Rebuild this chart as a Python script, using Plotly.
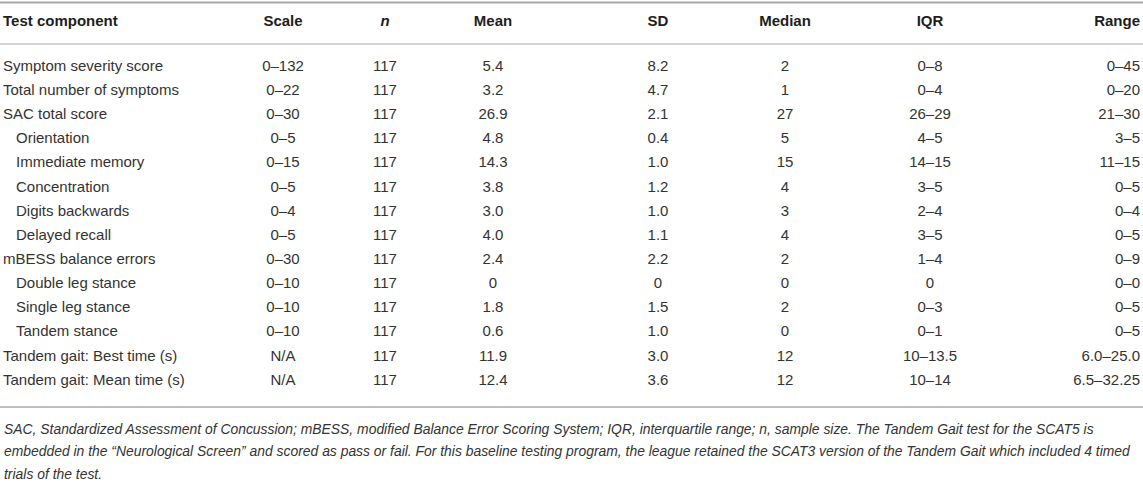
import plotly.graph_objects as go

# ---------------- data ----------------
headers = ["Test component", "Scale", "<i>n</i>", "Mean", "SD", "Median", "IQR", "Range"]
components = ["Symptom severity score", "Total number of symptoms", "SAC total score",
              "Orientation", "Immediate memory", "Concentration", "Digits backwards",
              "Delayed recall", "mBESS balance errors", "Double leg stance",
              "Single leg stance", "Tandem stance", "Tandem gait: Best time (s)",
              "Tandem gait: Mean time (s)"]
indent_level = [0, 0, 0, 1, 1, 1, 1, 1, 0, 1, 1, 1, 0, 0]
scale = ["0–132", "0–22", "0–30", "0–5", "0–15", "0–5", "0–4", "0–5", "0–30",
         "0–10", "0–10", "0–10", "N/A", "N/A"]
n_vals = ["117"] * 14
mean_vals = ["5.4", "3.2", "26.9", "4.8", "14.3", "3.8", "3.0", "4.0", "2.4",
             "0", "1.8", "0.6", "11.9", "12.4"]
sd_vals = ["8.2", "4.7", "2.1", "0.4", "1.0", "1.2", "1.0", "1.1", "2.2",
           "0", "1.5", "1.0", "3.0", "3.6"]
median_vals = ["2", "1", "27", "5", "15", "4", "3", "4", "2", "0", "2", "0", "12", "12"]
iqr_vals = ["0–8", "0–4", "26–29", "4–5", "14–15", "3–5", "2–4", "3–5", "1–4",
            "0", "0–3", "0–1", "10–13.5", "10–14"]
range_vals = ["0–45", "0–20", "21–30", "3–5", "11–15", "0–5", "0–4", "0–5", "0–9",
              "0–0", "0–5", "0–5", "6.0–25.0", "6.5–32.25"]
footnote_lines = [
    "SAC, Standardized Assessment of Concussion; mBESS, modified Balance Error Scoring System; IQR, interquartile range; n, sample size. The Tandem Gait test for the SCAT5 is",
    "embedded in the “Neurological Screen” and scored as pass or fail. For this baseline testing program, the league retained the SCAT3 version of the Tandem Gait which included 4 timed",
    "trials of the test.",
]

# ---------------- layout constants ----------------
W, H = 1143, 496
ROW0_PX, ROW_H = 67.0, 24.15          # pixel centre of first row, row pitch
def row_of(px):                        # convert pixel y to row units
    return (px - ROW0_PX) / ROW_H

col_x = [3, 283, 385, 493, 658, 785, 930, 1140]
col_pos = ["middle right", "middle center", "middle center", "middle center",
           "middle center", "middle center", "middle center", "middle left"]
INDENT = 13
FONT = "Liberation Sans, Arial, Helvetica, sans-serif"
BODY_C = "#333333"
HEAD_C = "#1e1e1e"
FS = 15

header_y = row_of(22.5)
rows = list(range(len(components)))

fig = go.Figure()

# header
for j, h in enumerate(headers):
    fig.add_trace(go.Scatter(
        x=[col_x[j]], y=[header_y], mode="text", text=[f"<b>{h}</b>"],
        textposition=col_pos[j],
        textfont=dict(family=FONT, size=FS, color=HEAD_C),
        hoverinfo="skip", showlegend=False))

# first column (with indentation)
fig.add_trace(go.Scatter(
    x=[col_x[0] + INDENT * lv for lv in indent_level], y=rows, mode="text",
    text=components, textposition="middle right",
    textfont=dict(family=FONT, size=FS, color=BODY_C),
    hoverinfo="skip", showlegend=False))

columns = [scale, n_vals, mean_vals, sd_vals, median_vals, iqr_vals, range_vals]
for j, vals in enumerate(columns, start=1):
    fig.add_trace(go.Scatter(
        x=[col_x[j]] * len(vals), y=rows, mode="text", text=vals,
        textposition=col_pos[j],
        textfont=dict(family=FONT, size=FS, color=BODY_C),
        hoverinfo="skip", showlegend=False))

# rules
rules = [(row_of(2.5), 2.2, "#a8a8a8"),
         (row_of(44.0), 1.6, "#c4c4c4"),
         (row_of(407.0), 1.6, "#a8a8a8")]
for yv, wdt, c in rules:
    fig.add_shape(type="line", xref="x", yref="y", x0=0, x1=W, y0=yv, y1=yv,
                  line=dict(color=c, width=wdt))

# footnote
foot_px = [428.5, 451.0, 473.5]
for line, py in zip(footnote_lines, foot_px):
    fig.add_annotation(x=2, y=row_of(py), xref="x", yref="y", text=f"<i>{line}</i>",
                       showarrow=False, xanchor="left", yanchor="middle",
                       font=dict(family=FONT, size=13.9, color=BODY_C))

fig.update_layout(
    width=W, height=H, margin=dict(l=0, r=0, t=0, b=0),
    paper_bgcolor="white", plot_bgcolor="white",
    xaxis=dict(range=[0, W], visible=False, fixedrange=True),
    yaxis=dict(range=[row_of(H), row_of(0)], visible=False, fixedrange=True),
)
fig.write_html("out.html",
               config={"displayModeBar": False, "staticPlot": True},
               post_script="document.body.style.margin='0';document.body.style.overflow='hidden';")
